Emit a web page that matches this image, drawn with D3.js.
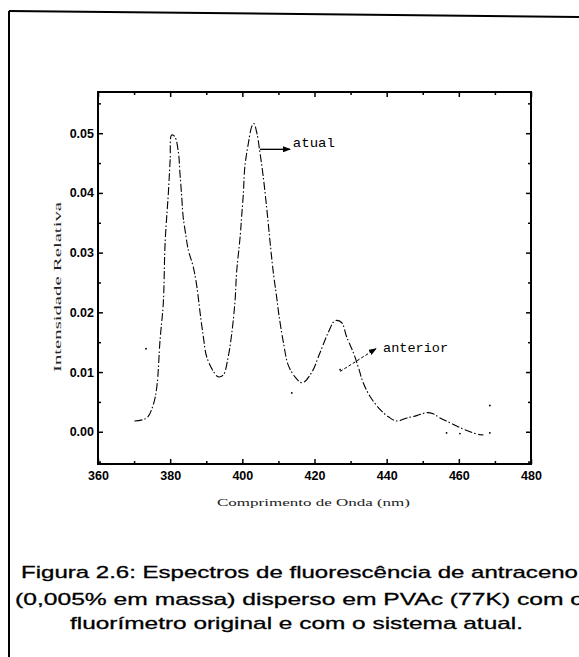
<!DOCTYPE html>
<html>
<head>
<meta charset="utf-8">
<script src="https://cdn.jsdelivr.net/npm/d3@7/dist/d3.min.js"></script>
<style>
  body { margin: 0; background: #fff; }
</style>
</head>
<body>
<div id="chart"></div>
<script>
// spectrum: wavelength (nm) / relative intensity
var atualWave = [370.1, 373.5, 375.3, 376.3, 377.2, 378.1, 378.6, 379.5, 380.0, 380.4, 381.3, 382.3, 382.7, 383.2, 383.6,
    384.4, 385.0, 386.4, 387.4, 388.3, 389.2, 390.1, 392.0, 393.3, 394.7, 396.1, 397.1, 398.0, 398.4, 399.4,
    399.8, 400.3, 400.7, 401.7, 402.6, 403.2, 404.0, 404.9, 405.8, 406.8, 407.7, 408.6, 409.5, 410.2, 411.4,
    412.7, 414.6, 416.6, 419.2, 421.5, 423.8, 425.7, 427.5, 428.9, 430.8, 432.1, 433.5, 435.4, 438.2, 440.5,
    442.8, 445.6, 448.3, 451.1, 452.9, 454.8, 457.6, 460.3, 463.1, 465.9, 466.8];
var atualInt = [0.0018, 0.0023, 0.0045, 0.0075, 0.0154, 0.0216, 0.0317, 0.0400, 0.0456, 0.0497, 0.0494, 0.0467, 0.0434, 0.0394, 0.0360,
    0.0327, 0.0305, 0.0276, 0.0243, 0.0199, 0.0159, 0.0126, 0.0101, 0.0092, 0.0095, 0.0126, 0.0166, 0.0221, 0.0266, 0.0327,
    0.0360, 0.0400, 0.0444, 0.0484, 0.0511, 0.0516, 0.0501, 0.0467, 0.0427, 0.0372, 0.0317, 0.0266, 0.0226, 0.0193, 0.0149,
    0.0112, 0.0092, 0.0082, 0.0099, 0.0132, 0.0166, 0.0186, 0.0183, 0.0159, 0.0132, 0.0109, 0.0082, 0.0059, 0.0037, 0.0025,
    0.0018, 0.0023, 0.0027, 0.0032, 0.0030, 0.0023, 0.0015, 0.0007, 0.0000, -0.0005, -0.0005];

// the older spectrum barely survives in the scan, only a few dots
var anteriorWave = [373.3, 413.7, 427.1, 456.6, 460.3, 468.6, 468.6];
var anteriorInt = [0.0139, 0.0065, 0.0104, -0.0002, -0.0003, -0.0002, 0.0044];

var xTicks = [360, 380, 400, 420, 440, 460, 480];
var xMinorTicks = [370, 390, 410, 430, 450, 470];
var yTicks = [0.00, 0.01, 0.02, 0.03, 0.04, 0.05];
var yMinorTicks = [-0.005, 0.005, 0.015, 0.025, 0.035, 0.045, 0.055];

var captionLines = [
    "Figura 2.6: Espectros de fluorescência de antraceno",
    "(0,005% em massa) disperso em PVAc (77K) com o",
    "fluorímetro original e com o sistema atual."
];

var svg, width = 579, height = 657;
var x, y;

function init() {
    svg = d3.select("#chart")
        .append("svg")
        .attr("width", width)
        .attr("height", height)
        .style("display", "block");

    x = d3.scaleLinear().domain([360, 480]).range([98, 531]);
    y = d3.scaleLinear().domain([-0.0054, 0.0569]).range([464, 92]);

    drawPageFrame();
    drawAxes();
    drawSpectra();
    drawLabels();
    drawCaption();
}

function drawPageFrame() {
    // scanned page border: left edge and slightly skewed top edge
    svg.append("line")
        .attr("x1", 9).attr("y1", 11).attr("x2", 9).attr("y2", height)
        .attr("stroke", "#000").attr("stroke-width", 2);
    svg.append("line")
        .attr("x1", 9).attr("y1", 11).attr("x2", width).attr("y2", 17)
        .attr("stroke", "#000").attr("stroke-width", 2);
}

function styleAxis(g) {
    g.select(".domain").remove();
    g.selectAll(".tick line").attr("stroke", "#000").attr("stroke-width", 1.5);
    g.selectAll("text")
        .attr("fill", "#000")
        .attr("font-family", "Liberation Sans, Arial, sans-serif")
        .attr("font-weight", "bold")
        .attr("font-size", "12.5px");
}

function drawAxes() {
    var x0 = x.range()[0], x1 = x.range()[1];
    var y0 = y.range()[0], y1 = y.range()[1];

    // bottom
    svg.append("g")
        .attr("transform", "translate(0," + y0 + ")")
        .call(d3.axisBottom(x).tickValues(xTicks).tickSizeInner(-5).tickSizeOuter(0).tickPadding(7)
            .tickFormat(d3.format("d")))
        .call(styleAxis);
    svg.append("g")
        .attr("transform", "translate(0," + y0 + ")")
        .call(d3.axisBottom(x).tickValues(xMinorTicks).tickSizeInner(-3).tickSizeOuter(0).tickFormat(""))
        .call(styleAxis);

    // top (mirror ticks only)
    svg.append("g")
        .attr("transform", "translate(0," + y1 + ")")
        .call(d3.axisTop(x).tickValues(xTicks).tickSizeInner(-5).tickSizeOuter(0).tickFormat(""))
        .call(styleAxis);
    svg.append("g")
        .attr("transform", "translate(0," + y1 + ")")
        .call(d3.axisTop(x).tickValues(xMinorTicks).tickSizeInner(-3).tickSizeOuter(0).tickFormat(""))
        .call(styleAxis);

    // left
    svg.append("g")
        .attr("transform", "translate(" + x0 + ",0)")
        .call(d3.axisLeft(y).tickValues(yTicks).tickSizeInner(-5).tickSizeOuter(0).tickPadding(4)
            .tickFormat(d3.format(".2f")))
        .call(styleAxis);
    svg.append("g")
        .attr("transform", "translate(" + x0 + ",0)")
        .call(d3.axisLeft(y).tickValues(yMinorTicks).tickSizeInner(-3).tickSizeOuter(0).tickFormat(""))
        .call(styleAxis);

    // right (mirror ticks only)
    svg.append("g")
        .attr("transform", "translate(" + x1 + ",0)")
        .call(d3.axisRight(y).tickValues(yTicks).tickSizeInner(-5).tickSizeOuter(0).tickFormat(""))
        .call(styleAxis);
    svg.append("g")
        .attr("transform", "translate(" + x1 + ",0)")
        .call(d3.axisRight(y).tickValues(yMinorTicks).tickSizeInner(-3).tickSizeOuter(0).tickFormat(""))
        .call(styleAxis);

    // plot frame
    svg.append("rect")
        .attr("x", x0).attr("y", y1)
        .attr("width", x1 - x0).attr("height", y0 - y1)
        .attr("fill", "none")
        .attr("stroke", "#000")
        .attr("stroke-width", 2);
}

function drawSpectra() {
    var line = d3.line()
        .x(function(i) { return x(atualWave[i]); })
        .y(function(i) { return y(atualInt[i]); })
        .curve(d3.curveCatmullRom);

    svg.append("path")
        .datum(d3.range(atualWave.length))
        .attr("d", line)
        .attr("fill", "none")
        .attr("stroke", "#000")
        .attr("stroke-width", 1.1)
        .attr("stroke-dasharray", "8,2,1.5,2.5");

    svg.selectAll("circle.anterior")
        .data(d3.range(anteriorWave.length))
        .enter().append("circle")
        .attr("class", "anterior")
        .attr("cx", function(i) { return x(anteriorWave[i]); })
        .attr("cy", function(i) { return y(anteriorInt[i]); })
        .attr("r", 0.9)
        .attr("fill", "#000");
}

function drawLabels() {
    svg.append("defs").append("marker")
        .attr("id", "arrow")
        .attr("viewBox", "0 0 8 6")
        .attr("refX", 7).attr("refY", 3)
        .attr("markerWidth", 8).attr("markerHeight", 6)
        .attr("markerUnits", "userSpaceOnUse")
        .attr("orient", "auto")
        .append("path")
        .attr("d", "M0,0 L8,3 L0,6 z")
        .attr("fill", "#000");

    // "atual" arrow and label
    svg.append("line")
        .attr("x1", x(404.9)).attr("y1", y(0.0473))
        .attr("x2", x(413.2)).attr("y2", y(0.0473))
        .attr("stroke", "#000").attr("stroke-width", 1.3)
        .attr("marker-end", "url(#arrow)");
    svg.append("text")
        .attr("x", x(414.0)).attr("y", y(0.0477))
        .attr("font-family", "Liberation Mono, monospace")
        .attr("font-size", "13px")
        .attr("textLength", 42)
        .attr("lengthAdjust", "spacingAndGlyphs")
        .text("atual");

    // "anterior" arrow and label
    svg.append("line")
        .attr("x1", x(427.1)).attr("y1", y(0.0101))
        .attr("x2", x(437.0)).attr("y2", y(0.0139))
        .attr("stroke", "#000").attr("stroke-width", 1)
        .attr("stroke-dasharray", "3,2")
        .attr("marker-end", "url(#arrow)");
    svg.append("text")
        .attr("x", x(439.0)).attr("y", y(0.0134))
        .attr("font-family", "Liberation Mono, monospace")
        .attr("font-size", "13px")
        .attr("textLength", 65)
        .attr("lengthAdjust", "spacingAndGlyphs")
        .text("anterior");

    // axis titles
    svg.append("text")
        .attr("x", 217).attr("y", 506)
        .attr("font-family", "Liberation Serif, serif")
        .attr("font-size", "11px")
        .attr("fill", "#222")
        .attr("textLength", 193)
        .attr("lengthAdjust", "spacingAndGlyphs")
        .text("Comprimento de Onda (nm)");

    svg.append("text")
        .attr("transform", "translate(61,372) rotate(-90)")
        .attr("font-family", "Liberation Serif, serif")
        .attr("font-size", "11px")
        .attr("fill", "#222")
        .attr("textLength", 170)
        .attr("lengthAdjust", "spacingAndGlyphs")
        .text("Intensidade Relativa");
}

function drawCaption() {
    var starts = [21, 15, 70];
    var lengths = [557, 569, 453];
    var baselines = [578, 605, 629];

    svg.selectAll("text.caption")
        .data(captionLines)
        .enter().append("text")
        .attr("class", "caption")
        .attr("x", function(d, i) { return starts[i]; })
        .attr("y", function(d, i) { return baselines[i]; })
        .attr("font-family", "Liberation Sans, Arial, sans-serif")
        .attr("font-size", "17px")
        .attr("fill", "#000")
        .attr("stroke", "#000")
        .attr("stroke-width", 0.3)
        .attr("textLength", function(d, i) { return lengths[i]; })
        .attr("lengthAdjust", "spacingAndGlyphs")
        .text(function(d) { return d; });
}

window.onload = init;
</script>
</body>
</html>
